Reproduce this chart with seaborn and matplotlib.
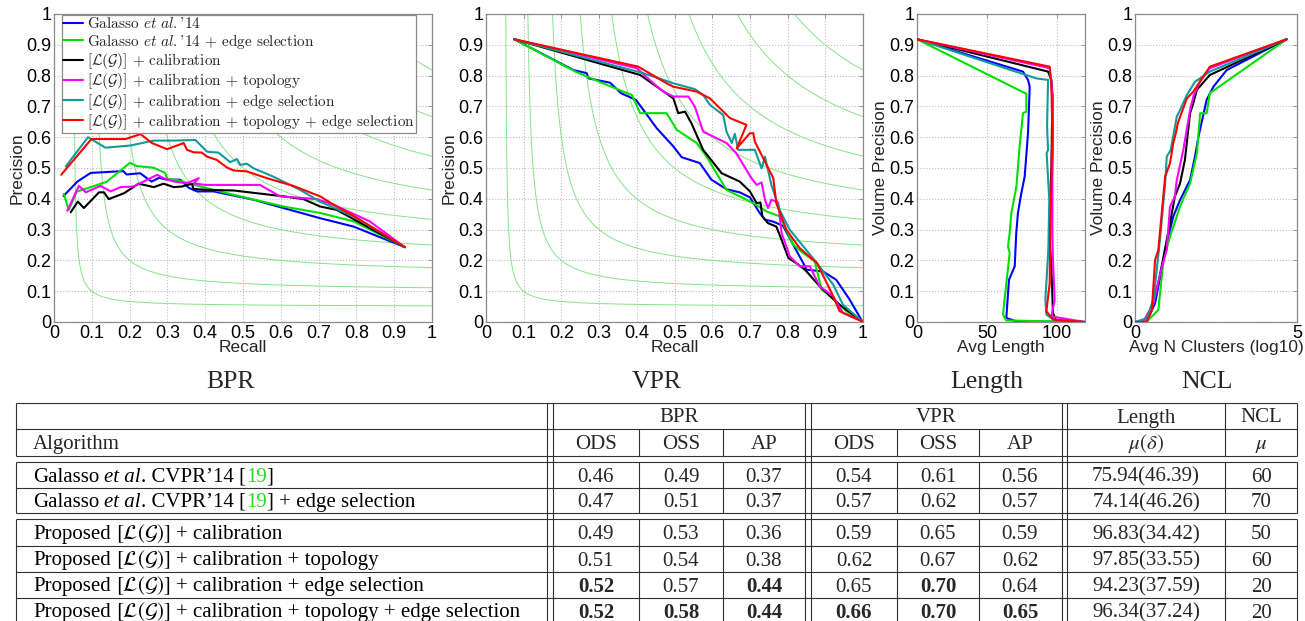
import re
import numpy as np
import pandas as pd
import matplotlib
matplotlib.use('Agg')
import matplotlib.pyplot as plt
import seaborn as sns
from matplotlib.lines import Line2D
from matplotlib.font_manager import FontProperties
from matplotlib.ticker import FormatStrFormatter

# ---------------------------------------------------------------------------
# data
# ---------------------------------------------------------------------------
METHODS = ['galasso', 'galasso_edge', 'cal', 'cal_topo', 'cal_edge', 'cal_topo_edge']
COLORS = ['#0000ff', '#00e000', '#000000', '#ff00ff', '#139a9a', '#ff0000']
LEGEND_LABELS = [
    r"Galasso $\mathit{et\ al.}$'14",
    r"Galasso $\mathit{et\ al.}$'14 $+$ edge selection",
    r"$[\mathcal{L}(\mathcal{G})]$ $+$ calibration",
    r"$[\mathcal{L}(\mathcal{G})]$ $+$ calibration $+$ topology",
    r"$[\mathcal{L}(\mathcal{G})]$ $+$ calibration $+$ edge selection",
    r"$[\mathcal{L}(\mathcal{G})]$ $+$ calibration $+$ topology $+$ edge selection",
]
F_LEVELS = [0.1, 0.2, 0.3, 0.4, 0.5, 0.6, 0.7, 0.8, 0.9]

# BPR: (recall, precision)
BPR_GALASSO = [(0.025, 0.409), (0.062, 0.456), (0.097, 0.484), (0.183, 0.490), (0.192, 0.479),
               (0.228, 0.483), (0.258, 0.456), (0.278, 0.468), (0.299, 0.462), (0.334, 0.462),
               (0.356, 0.436), (0.378, 0.424), (0.422, 0.424), (0.528, 0.397), (0.607, 0.370),
               (0.704, 0.337), (0.792, 0.310), (0.928, 0.243)]
BPR_GALASSO_EDGE = [(0.026, 0.416), (0.039, 0.364), (0.060, 0.423), (0.139, 0.455), (0.201, 0.517),
                    (0.219, 0.506), (0.263, 0.501), (0.294, 0.484), (0.300, 0.464), (0.321, 0.462),
                    (0.387, 0.440), (0.475, 0.413), (0.607, 0.375), (0.704, 0.354), (0.792, 0.327),
                    (0.928, 0.243)]
BPR_CAL = [(0.044, 0.356), (0.063, 0.391), (0.079, 0.370), (0.119, 0.421), (0.132, 0.421),
           (0.145, 0.399), (0.185, 0.418), (0.224, 0.449), (0.264, 0.438), (0.290, 0.449),
           (0.317, 0.438), (0.339, 0.440), (0.365, 0.449), (0.369, 0.432), (0.405, 0.429),
           (0.475, 0.427), (0.607, 0.408), (0.660, 0.399), (0.704, 0.375), (0.748, 0.364),
           (0.928, 0.243)]
BPR_CAL_TOPO = [(0.035, 0.361), (0.066, 0.442), (0.084, 0.421), (0.123, 0.442), (0.150, 0.424),
                (0.176, 0.438), (0.211, 0.440), (0.273, 0.478), (0.290, 0.467), (0.317, 0.456),
                (0.352, 0.451), (0.383, 0.467), (0.370, 0.450), (0.400, 0.445), (0.545, 0.445),
                (0.598, 0.408), (0.695, 0.399), (0.739, 0.381), (0.835, 0.327), (0.928, 0.243)]
BPR_CAL_EDGE = [(0.031, 0.505), (0.090, 0.600), (0.136, 0.566), (0.202, 0.573), (0.264, 0.589),
                (0.317, 0.589), (0.374, 0.591), (0.405, 0.553), (0.435, 0.550), (0.466, 0.519),
                (0.484, 0.529), (0.493, 0.510), (0.510, 0.514), (0.528, 0.499), (0.580, 0.472),
                (0.651, 0.429), (0.704, 0.391), (0.792, 0.343), (0.928, 0.243)]
BPR_CAL_TOPO_EDGE = [(0.019, 0.478), (0.099, 0.594), (0.189, 0.594), (0.229, 0.610), (0.259, 0.581),
                     (0.299, 0.561), (0.343, 0.581), (0.352, 0.559), (0.369, 0.551), (0.391, 0.550),
                     (0.405, 0.537), (0.431, 0.526), (0.457, 0.502), (0.475, 0.492), (0.510, 0.489),
                     (0.563, 0.467), (0.633, 0.442), (0.704, 0.408), (0.748, 0.375), (0.792, 0.345),
                     (0.928, 0.243)]

# VPR: (recall, precision)
VPR_GALASSO = [(0.075, 0.918), (0.232, 0.818), (0.267, 0.808), (0.272, 0.791), (0.329, 0.777),
               (0.358, 0.743), (0.398, 0.721), (0.453, 0.629), (0.497, 0.570), (0.519, 0.535),
               (0.567, 0.516), (0.598, 0.462), (0.638, 0.431), (0.673, 0.421), (0.700, 0.405),
               (0.726, 0.354), (0.740, 0.332), (0.762, 0.326), (0.788, 0.312), (0.810, 0.262),
               (0.846, 0.181), (0.850, 0.170), (0.894, 0.164), (0.929, 0.137), (0.965, 0.072),
               (0.998, 0.002)]
VPR_GALASSO_EDGE = [(0.075, 0.918), (0.237, 0.813), (0.320, 0.770), (0.387, 0.737), (0.409, 0.678),
                    (0.479, 0.678), (0.506, 0.624), (0.559, 0.581), (0.585, 0.537), (0.638, 0.429),
                    (0.709, 0.386), (0.744, 0.359), (0.779, 0.343), (0.815, 0.251), (0.841, 0.224),
                    (0.872, 0.197), (0.890, 0.105), (0.903, 0.094), (0.956, 0.035), (0.998, 0.002)]
VPR_CAL = [(0.075, 0.918), (0.409, 0.802), (0.453, 0.764), (0.497, 0.726), (0.510, 0.678),
           (0.528, 0.683), (0.545, 0.645), (0.576, 0.559), (0.625, 0.483), (0.673, 0.456),
           (0.700, 0.424), (0.718, 0.386), (0.728, 0.388), (0.733, 0.343), (0.748, 0.321),
           (0.770, 0.310), (0.784, 0.267), (0.802, 0.208), (0.823, 0.191), (0.846, 0.170),
           (0.885, 0.116), (0.938, 0.056), (0.998, 0.002)]
VPR_CAL_TOPO = [(0.075, 0.918), (0.400, 0.824), (0.444, 0.775), (0.470, 0.748), (0.497, 0.732),
                (0.537, 0.732), (0.554, 0.699), (0.576, 0.618), (0.638, 0.581), (0.664, 0.548),
                (0.704, 0.467), (0.718, 0.445), (0.731, 0.453), (0.740, 0.397), (0.748, 0.370),
                (0.757, 0.397), (0.775, 0.388), (0.784, 0.289), (0.806, 0.213), (0.832, 0.181),
                (0.859, 0.181), (0.885, 0.116), (0.921, 0.083), (0.947, 0.029), (0.998, 0.002)]
VPR_CAL_EDGE = [(0.075, 0.918), (0.417, 0.808), (0.497, 0.775), (0.554, 0.756), (0.576, 0.737),
                (0.594, 0.705), (0.629, 0.672), (0.638, 0.618), (0.652, 0.581), (0.660, 0.611),
                (0.669, 0.559), (0.713, 0.559), (0.731, 0.499), (0.740, 0.537), (0.757, 0.445),
                (0.779, 0.364), (0.806, 0.299), (0.878, 0.191), (0.921, 0.121), (0.947, 0.056),
                (0.998, 0.002)]
VPR_CAL_TOPO_EDGE = [(0.075, 0.918), (0.404, 0.829), (0.479, 0.775), (0.497, 0.764), (0.559, 0.748),
                     (0.594, 0.726), (0.647, 0.662), (0.691, 0.640), (0.665, 0.564), (0.700, 0.613),
                     (0.709, 0.613), (0.713, 0.586), (0.762, 0.467), (0.770, 0.386), (0.797, 0.299),
                     (0.832, 0.240), (0.878, 0.191), (0.917, 0.094), (0.938, 0.035), (0.998, 0.002)]

# Length: (avg length, volume precision)
LEN_GALASSO = [(0, 0.918), (75.7, 0.813), (79.3, 0.786), (80.5, 0.764), (79.3, 0.613), (76.9, 0.472),
               (74.5, 0.418), (72.1, 0.354), (70.9, 0.289), (69.8, 0.181), (65.7, 0.137),
               (63.8, 0.013), (71.0, 0.002), (120, 0.0)]
LEN_GALASSO_EDGE = [(0, 0.918), (78.1, 0.741), (78.1, 0.683), (75.7, 0.678), (73.3, 0.570),
                    (71.0, 0.440), (67.4, 0.354), (66.2, 0.289), (65.0, 0.245), (66.2, 0.224),
                    (63.8, 0.126), (61.4, 0.024), (63.8, 0.005), (120, 0.0)]
LEN_CAL = [(0, 0.918), (93.6, 0.813), (96.0, 0.786), (96.7, 0.721), (96.0, 0.505), (94.3, 0.289),
           (96.0, 0.181), (97.1, 0.029), (99.5, 0.005), (120, 0.0)]
LEN_CAL_TOPO = [(0, 0.918), (94.8, 0.824), (97.1, 0.732), (97.1, 0.559), (96.7, 0.472), (96.7, 0.289),
                (97.1, 0.202), (98.3, 0.072), (96.0, 0.018), (120, 0.0)]
LEN_CAL_EDGE = [(0, 0.918), (85.2, 0.791), (93.6, 0.786), (92.9, 0.635), (93.6, 0.559), (92.6, 0.548),
                (94.5, 0.397), (93.8, 0.235), (91.7, 0.072), (92.4, 0.024), (99.5, 0.002), (120, 0.0)]
LEN_CAL_TOPO_EDGE = [(0, 0.918), (94.8, 0.829), (96.0, 0.764), (96.7, 0.613), (96.0, 0.472),
                     (95.2, 0.289), (94.8, 0.126), (92.4, 0.035), (97.1, 0.008), (120, 0.0)]

# NCL: (log10 avg n clusters, volume precision)
NCL_GALASSO = [(0.0, 0.0), (0.36, 0.001), (0.62, 0.061), (0.98, 0.256), (1.18, 0.342), (1.39, 0.396),
               (1.70, 0.461), (1.85, 0.537), (1.96, 0.602), (2.21, 0.721), (2.42, 0.764),
               (2.83, 0.818), (4.68, 0.918)]
NCL_GALASSO_EDGE = [(0.0, 0.0), (0.36, 0.001), (0.72, 0.039), (0.88, 0.201), (1.08, 0.277),
                    (1.39, 0.375), (1.70, 0.450), (1.91, 0.548), (2.01, 0.678), (2.21, 0.678),
                    (2.31, 0.743), (4.68, 0.918)]
NCL_CAL = [(0.0, 0.0), (0.26, 0.001), (0.47, 0.039), (0.72, 0.126), (0.88, 0.212), (1.08, 0.321),
           (1.23, 0.407), (1.39, 0.450), (1.54, 0.526), (1.70, 0.678), (1.80, 0.710), (1.91, 0.754),
           (2.31, 0.802), (4.68, 0.918)]
NCL_CAL_TOPO = [(0.0, 0.0), (0.26, 0.001), (0.57, 0.061), (0.83, 0.180), (0.98, 0.234), (1.08, 0.375),
                (1.23, 0.407), (1.29, 0.461), (1.49, 0.558), (1.70, 0.688), (1.80, 0.732),
                (2.00, 0.780), (2.31, 0.824), (4.68, 0.918)]
NCL_CAL_EDGE = [(0.0, 0.0), (0.36, 0.012), (0.57, 0.071), (0.77, 0.266), (0.93, 0.450), (0.98, 0.537),
                (1.10, 0.558), (1.29, 0.667), (1.39, 0.688), (1.60, 0.737), (1.85, 0.780),
                (2.31, 0.813), (4.68, 0.918)]
NCL_CAL_TOPO_EDGE = [(0.0, 0.0), (0.36, 0.0), (0.52, 0.039), (0.62, 0.201), (0.72, 0.234),
                     (0.93, 0.472), (1.08, 0.515), (1.18, 0.580), (1.26, 0.613), (1.32, 0.645),
                     (1.60, 0.726), (1.80, 0.748), (2.31, 0.829), (4.68, 0.918)]

# table
ALGORITHMS = [
    "Galasso *et al*. CVPR’14 [#19#]",
    "Galasso *et al*. CVPR’14 [#19#] + edge selection",
    r"Proposed $[\mathcal{L}(\mathcal{G})]$ + calibration",
    r"Proposed $[\mathcal{L}(\mathcal{G})]$ + calibration + topology",
    r"Proposed $[\mathcal{L}(\mathcal{G})]$ + calibration + edge selection",
    r"Proposed $[\mathcal{L}(\mathcal{G})]$ + calibration + topology + edge selection",
]
BPR_ODS = [0.46, 0.47, 0.49, 0.51, 0.52, 0.52]
BPR_OSS = [0.49, 0.51, 0.53, 0.54, 0.57, 0.58]
BPR_AP = [0.37, 0.37, 0.36, 0.38, 0.44, 0.44]
VPR_ODS = [0.54, 0.57, 0.59, 0.62, 0.65, 0.66]
VPR_OSS = [0.61, 0.62, 0.65, 0.67, 0.70, 0.70]
VPR_AP = [0.56, 0.57, 0.59, 0.62, 0.64, 0.65]
LENGTH_MEAN = [75.94, 74.14, 96.83, 97.85, 94.23, 96.34]
LENGTH_STD = [46.39, 46.26, 34.42, 33.55, 37.59, 37.24]
NCL_MEAN = [60, 70, 50, 60, 20, 20]
PANEL_TITLES = ['BPR', 'VPR', 'Length', 'NCL']


def to_frame(series):
    rows = []
    for method, pts in zip(METHODS, series):
        for x, y in pts:
            rows.append({'method': method, 'x': x, 'y': y})
    return pd.DataFrame(rows)


def style_axes(ax, xlim, xticks):
    ax.set_xlim(*xlim)
    ax.set_ylim(0, 1)
    ax.set_xticks(xticks)
    ax.set_yticks(np.linspace(0, 1, 11))
    ax.xaxis.set_major_formatter(FormatStrFormatter('%g'))
    ax.yaxis.set_major_formatter(FormatStrFormatter('%g'))
    ax.grid(True, linestyle=':', color='#bdbdbd', linewidth=0.8)
    ax.set_axisbelow(True)
    ax.tick_params(direction='in', top=True, right=True, length=3, width=0.6,
                   color='#888888', labelsize=13, pad=2, labelcolor='black')
    for s in ax.spines.values():
        s.set_visible(True)
        s.set_color('#8a8a8a')
        s.set_linewidth(0.9)


def iso_f(ax):
    r = np.linspace(0.001, 1, 500)
    R, P = np.meshgrid(r, r)
    F = 2 * P * R / (P + R)
    ax.contour(R, P, F, levels=F_LEVELS, colors='#86e486', linewidths=0.7, zorder=1)


def draw_curves(ax, series):
    df = to_frame(series)
    sns.lineplot(data=df, x='x', y='y', hue='method', hue_order=METHODS, palette=COLORS,
                 sort=False, estimator=None, linewidth=1.5, legend=False, ax=ax, zorder=3)


def rich_text(ax, x, y, s, size):
    parts = [p for p in re.split(r'(\*[^*]+\*|#[^#]+#|\$[^$]+\$)', s) if p]
    prev = None
    gap = False
    for p in parts:
        kw = dict(family='Liberation Serif', fontsize=size, color='black', va='baseline', ha='left')
        if p.startswith('*'):
            p = p[1:-1]
            kw['style'] = 'italic'
        elif p.startswith('#'):
            p = p[1:-1]
            kw['color'] = '#22dd22'
        elif p.startswith('$'):
            kw['math_fontfamily'] = 'stix'
        lead = p[:1] == ' '
        trail = p[-1:] == ' '
        p = p.strip()
        if not p:
            gap = True
            continue
        off = 0.25 * size if (gap or lead) else 0.0
        if prev is None:
            prev = ax.text(x, y, p, **kw)
        else:
            prev = ax.annotate(p, xy=(1, y), xycoords=(prev, 'data'),
                               xytext=(off, 0), textcoords='offset points', **kw)
        gap = trail


def draw_table(ax):
    lc = '#303030'
    lw = 0.8
    x0, x1 = 16, 1297
    top, bottom = 403, 624
    sections = [(403, 456), (461.5, 513), (519, 624)]
    for y in [403, 429, 456, 461.5, 487.5, 513, 519, 546, 572, 598]:
        ax.hlines(y, x0, x1, color=lc, lw=lw)
    for x in [547, 553, 805, 811, 1062, 1067]:
        ax.vlines(x, top, bottom, color=lc, lw=lw)
    for x in [x0, x1, 1225]:
        for a, b in sections:
            ax.vlines(x, a, b, color=lc, lw=lw)
    for x in [639, 723, 897, 979]:
        for a, b in [(429, 456), sections[1], sections[2]]:
            ax.vlines(x, a, b, color=lc, lw=lw)

    fs = 15
    serif = dict(family='Liberation Serif', fontsize=fs, ha='center', va='baseline')
    # header
    for label, cx in zip(['BPR', 'VPR', 'Length', 'NCL'], [679, 936, 1146, 1261]):
        ax.text(cx, 416 + 6.5, label, **serif)
    ax.text(33, 442.5 + 6.5, 'Algorithm', family='Liberation Serif', fontsize=fs, va='baseline')
    for label, cx in zip(['ODS', 'OSS', 'AP', 'ODS', 'OSS', 'AP'], [596, 681, 764, 854, 938, 1020]):
        ax.text(cx, 442.5 + 6.5, label, **serif)
    ax.text(1146, 442.5 + 6.5, r'$\mu(\delta)$', math_fontfamily='stix', **serif)
    ax.text(1261, 442.5 + 6.5, r'$\mu$', math_fontfamily='stix', **serif)

    row_y = [475, 500.5, 532.5, 559, 585, 611]
    score_cols = [(BPR_ODS, 596), (BPR_OSS, 681), (BPR_AP, 764),
                  (VPR_ODS, 854), (VPR_OSS, 938), (VPR_AP, 1020)]
    for i, cy in enumerate(row_y):
        yb = cy + 6.5
        rich_text(ax, 33, yb, ALGORITHMS[i], fs)
        for vals, cx in score_cols:
            w = 'bold' if vals[i] == max(vals) else 'normal'
            ax.text(cx, yb, f'{vals[i]:.2f}', weight=w, **serif)
        ax.text(1146, yb, f'{LENGTH_MEAN[i]:.2f}({LENGTH_STD[i]:.2f})', **serif)
        ax.text(1261, yb, f'{NCL_MEAN[i]}', **serif)


def main():
    sns.set_style('white')
    plt.rcParams['font.family'] = ['Liberation Sans', 'DejaVu Sans']
    plt.rcParams['axes.labelsize'] = 12.5

    W, H = 1305, 621
    fig = plt.figure(figsize=(W / 100, H / 100), dpi=100)

    def box(l, r, t=14, b=322):
        return [l / W, 1 - b / H, (r - l) / W, (b - t) / H]

    # overlay in pixel units for the table and panel captions
    ax_t = fig.add_axes([0, 0, 1, 1])
    ax_t.set_xlim(0, W)
    ax_t.set_ylim(H, 0)
    ax_t.axis('off')

    ax1 = fig.add_axes(box(54, 432))
    ax2 = fig.add_axes(box(486, 863))
    ax3 = fig.add_axes(box(917, 1085))
    ax4 = fig.add_axes(box(1135, 1297))

    bpr = [BPR_GALASSO, BPR_GALASSO_EDGE, BPR_CAL, BPR_CAL_TOPO, BPR_CAL_EDGE, BPR_CAL_TOPO_EDGE]
    vpr = [VPR_GALASSO, VPR_GALASSO_EDGE, VPR_CAL, VPR_CAL_TOPO, VPR_CAL_EDGE, VPR_CAL_TOPO_EDGE]
    lng = [LEN_GALASSO, LEN_GALASSO_EDGE, LEN_CAL, LEN_CAL_TOPO, LEN_CAL_EDGE, LEN_CAL_TOPO_EDGE]
    ncl = [NCL_GALASSO, NCL_GALASSO_EDGE, NCL_CAL, NCL_CAL_TOPO, NCL_CAL_EDGE, NCL_CAL_TOPO_EDGE]

    for ax in (ax1, ax2):
        iso_f(ax)
    draw_curves(ax1, bpr)
    draw_curves(ax2, vpr)
    draw_curves(ax3, lng)
    draw_curves(ax4, ncl)

    style_axes(ax1, (0, 1), np.linspace(0, 1, 11))
    style_axes(ax2, (0, 1), np.linspace(0, 1, 11))
    style_axes(ax3, (0, 120), [0, 50, 100])
    style_axes(ax4, (0, 5), [0, 5])

    for ax in (ax1, ax2):
        ax.set_xlabel('Recall', labelpad=-1)
        ax.set_ylabel('Precision', labelpad=1)
    ax3.set_xlabel('Avg Length', labelpad=-1)
    ax4.set_xlabel('Avg N Clusters (log10)', labelpad=-1)
    for ax in (ax3, ax4):
        ax.set_ylabel('Volume Precision', labelpad=1)

    handles = [Line2D([], [], color=c, lw=1.5) for c in COLORS]
    prop = FontProperties(family='cmr10', size=11, math_fontfamily='cm')
    leg = ax1.legend(handles, LEGEND_LABELS, loc='upper left', bbox_to_anchor=(0.018, 1.0),
                     prop=prop, frameon=True, fancybox=False, framealpha=1, edgecolor='#8a8a8a',
                     borderpad=0.1, labelspacing=0.02, handlelength=1.3, handletextpad=0.25,
                     borderaxespad=0.05)
    leg.get_frame().set_linewidth(0.9)
    leg.set_zorder(5)

    for label, cx in zip(PANEL_TITLES, [231, 657, 987, 1207]):
        ax_t.text(cx, 382, label, family='Liberation Serif', fontsize=18.5, ha='center', va='center')

    draw_table(ax_t)

    fig.savefig('out.png', dpi=100)


if __name__ == '__main__':
    main()
